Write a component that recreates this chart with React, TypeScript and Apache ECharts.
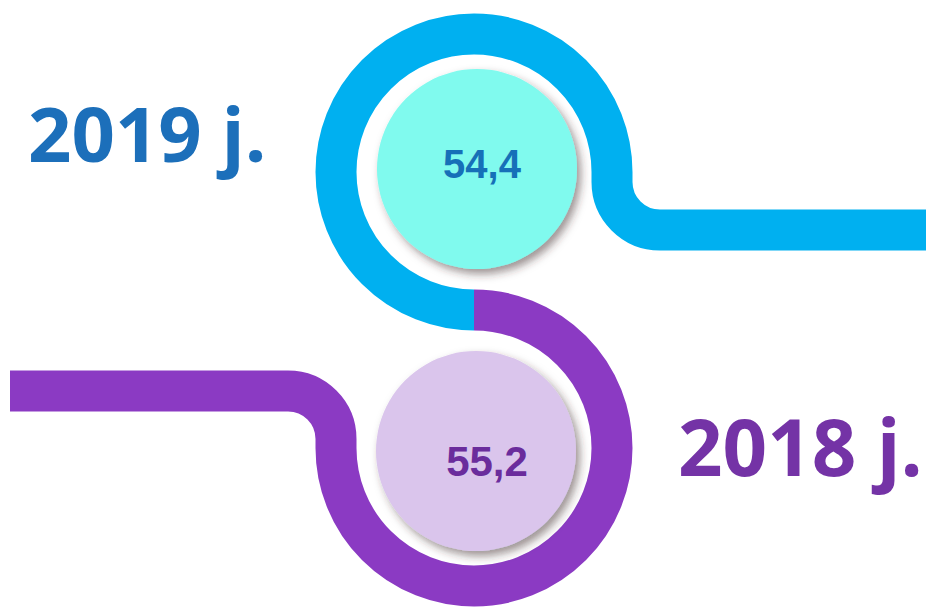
import React, { useEffect, useRef } from "react";
import * as echarts from "echarts";

// ---- data ----
const years: string[] = ["2019 j.", "2018 j."];
const values: number[] = [54.4, 55.2];

const fmt = (v: number) => v.toFixed(1).replace(".", ",");

const BLUE_D =
  "M 474 310 A 138 138 0 1 1 612 172 L 612 182 A 48 48 0 0 0 660 230 L 940 230";
const PURPLE_D =
  "M 474 310 A 138 138 0 1 1 336 448 L 336 439 A 48 48 0 0 0 288 391 L 10 391";

let registered = false;
function registerShapes() {
  if (registered) return;
  echarts.graphic.registerShape("bluePath", echarts.graphic.extendPath(BLUE_D, {}));
  echarts.graphic.registerShape("purplePath", echarts.graphic.extendPath(PURPLE_D, {}));
  registered = true;
}

export default function App() {
  const ref = useRef<HTMLDivElement>(null);
  useEffect(() => {
    if (!ref.current) return;
    registerShapes();
    const chart = echarts.init(ref.current, undefined, { renderer: "svg" });
    const labelFont = '"Open Sans", "Noto Sans", sans-serif';
    const numFont = '"Liberation Sans", Arial, sans-serif';
    chart.setOption({
      animation: false,
      backgroundColor: "#ffffff",
      graphic: [
        {
          type: "bluePath",
          x: 0,
          y: 0,
          style: { fill: "none", stroke: "#00B0F0", lineWidth: 41, lineCap: "butt", lineJoin: "round" },
        },
        {
          type: "purplePath",
          x: 0,
          y: 0,
          style: { fill: "none", stroke: "#8B3AC3", lineWidth: 41, lineCap: "butt", lineJoin: "round" },
        },
        {
          type: "circle",
          shape: { cx: 477, cy: 169, r: 100 },
          style: {
            fill: "#80FAEE",
            shadowBlur: 8,
            shadowOffsetX: 4,
            shadowOffsetY: 5,
            shadowColor: "rgba(60,40,40,0.5)",
          },
        },
        {
          type: "circle",
          shape: { cx: 476, cy: 451, r: 100 },
          style: {
            fill: "#DAC5EC",
            shadowBlur: 8,
            shadowOffsetX: 4,
            shadowOffsetY: 5,
            shadowColor: "rgba(60,40,40,0.5)",
          },
        },
        {
          type: "text",
          x: 482,
          y: 164,
          style: {
            text: fmt(values[0]),
            fill: "#1670B8",
            font: `bold 40px ${numFont}`,
            textAlign: "center",
            textVerticalAlign: "middle",
          },
        },
        {
          type: "text",
          x: 487,
          y: 461,
          style: {
            text: fmt(values[1]),
            fill: "#6A2C9C",
            font: `bold 42px ${numFont}`,
            textAlign: "center",
            textVerticalAlign: "middle",
          },
        },
        {
          type: "text",
          x: 28,
          y: 132,
          style: {
            text: years[0],
            fill: "#1C6FBA",
            font: `bold 76px ${labelFont}`,
            textAlign: "left",
            textVerticalAlign: "middle",
          },
        },
        {
          type: "text",
          x: 678,
          y: 446,
          style: {
            text: years[1],
            fill: "#7433A6",
            font: `bold 78px ${labelFont}`,
            textAlign: "left",
            textVerticalAlign: "middle",
          },
        },
      ],
    });
    return () => chart.dispose();
  }, []);
  return (
    <div
      ref={ref}
      style={{ position: "absolute", left: 0, top: 0, width: 926, height: 609 }}
    />
  );
}
